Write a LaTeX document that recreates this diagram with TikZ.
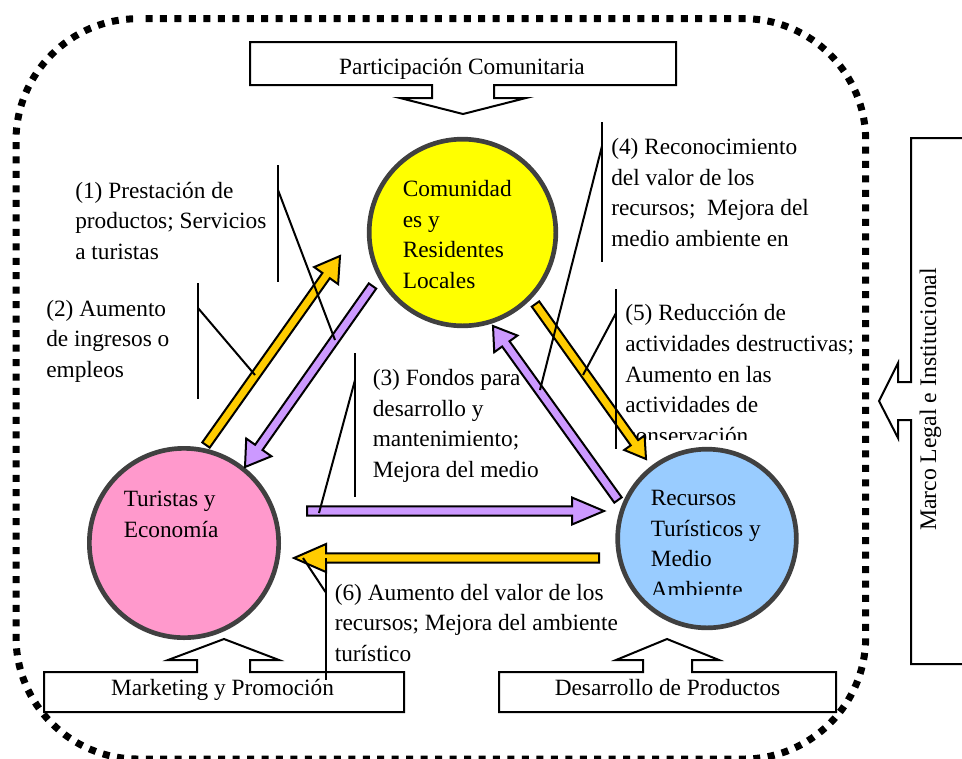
\documentclass[tikz,border=0pt]{standalone}
\usepackage{fontspec}
\setmainfont{Liberation Serif}
\usetikzlibrary{calc}
\definecolor{cyellow}{HTML}{FFFF00}
\definecolor{cpink}{HTML}{FF99CC}
\definecolor{cblue}{HTML}{99CCFF}
\definecolor{corange}{HTML}{FFCC00}
\definecolor{cpurple}{HTML}{CC99FF}
\definecolor{cring}{HTML}{404040}
\tikzset{
  lab/.style={anchor=base west,inner sep=0pt,align=left,font=\fontsize{17.5}{23}\selectfont},
  boxlab/.style={anchor=base,inner sep=0pt,font=\fontsize{17.5}{23}\selectfont},
  calloutbox/.style={draw=black,fill=white,line width=1.5pt,line join=miter},
  leader/.style={draw=black,line width=1.5pt},
  actor/.style={circle,draw=cring,line width=3.5pt,inner sep=0pt},
  blockar/.style={draw=black,line width=1.5pt,line join=miter}
}
% tail, tip, colour, head length (px), head half width (px)
\newcommand{\blockarrow}[5]{%
  \coordinate (hb) at ($(#2)!#4*0.75pt!(#1)$);
  \draw[blockar,fill=#3]
    ($(#1)!3.4pt!90:(#2)$) -- ($(hb)!3.4pt!90:(#2)$) -- ($(hb)!#5*0.75pt!90:(#2)$) -- (#2)
    -- ($(hb)!#5*0.75pt!-90:(#2)$) -- ($(hb)!3.4pt!-90:(#2)$) -- ($(#1)!3.4pt!-90:(#2)$) -- cycle;
}
\begin{document}
\begin{tikzpicture}[x=0.75pt,y=-0.75pt]
\useasboundingbox (0,0) rectangle (962,758);
\clip (0,0) rectangle (962,758);
\fill[white] (0,0) rectangle (962,758);
% dotted frame
\draw[black,line width=5.25pt,dash pattern=on 5.25pt off 5.6pt]
  (145.5,18.7) -- (743.7,18.7) arc[start angle=-90,end angle=0,radius=122]
  -- (865.7,637) arc[start angle=0,end angle=90,radius=122]
  -- (138,759) arc[start angle=90,end angle=180,radius=122]
  -- (16,140.7) arc[start angle=180,end angle=270,radius=122];
% circles
\node[actor,fill=cyellow,minimum size=140pt] (com) at (462.5,232.5) {};
\node[actor,fill=cpink,minimum size=142pt] (tur) at (184,543) {};
\node[actor,fill=cblue,minimum size=134pt] (rec) at (707,538.5) {};
% circle labels
\node[lab] (comt) at (402.5,288.5) {Comunidad\\es y\\Residentes\\Locales};
\node[lab] (turt) at (123.5,537.5) {Turistas y\\Economía};
\begin{scope}
  \clip (640,470) rectangle (790,594);
  \node[lab] (rect) at (650.5,597.5) {Recursos\\Turísticos y\\Medio\\Ambiente};
\end{scope}
% relation labels
\node[lab] (t1) at (75,259.5) {(1) Prestación de\\productos; Servicios\\a turistas};
\node[lab] (t2) at (46,377.5) {(2) Aumento\\de ingresos o\\empleos};
\node[lab] (t3) at (372.5,477.5) {(3) Fondos para\\desarrollo y\\mantenimiento;\\Mejora del medio};
\node[lab] (t4) at (611,246.5) {(4) Reconocimiento\\del valor de los\\recursos;\ \ Mejora del\\medio ambiente en};
\begin{scope}
  \clip (620,295) rectangle (865,439);
  \node[lab] (t5) at (625,443.5) {(5) Reducción de\\actividades destructivas;\\Aumento en las\\actividades de\\conservación};
\end{scope}
\node[lab] (t6) at (334.5,661.5) {(6) Aumento del valor de los\\recursos; Mejora del ambiente\\turístico};
% block arrows
\coordinate (a1s) at (206,445);   \coordinate (a1e) at (340,256);
\coordinate (a2s) at (372.5,286); \coordinate (a2e) at (245,467);
\coordinate (a3s) at (535.5,304); \coordinate (a3e) at (646,459);
\coordinate (a4s) at (618,500);   \coordinate (a4e) at (493,326);
\coordinate (a5s) at (307,511);   \coordinate (a5e) at (604,511);
\coordinate (a6s) at (599,558);   \coordinate (a6e) at (294,558);
\blockarrow{a1s}{a1e}{corange}{24}{14.7}
\blockarrow{a2s}{a2e}{cpurple}{24}{15.4}
\blockarrow{a3s}{a3e}{corange}{20}{12.5}
\blockarrow{a4s}{a4e}{cpurple}{22}{14.3}
\blockarrow{a5s}{a5e}{cpurple}{32}{13.5}
\blockarrow{a6s}{a6e}{corange}{32}{14}
% callout boxes
\draw[calloutbox] (250,42) -- (676,42) -- (676,85) -- (494,85) -- (494,98) -- (526,98) -- (463,114) -- (400,98) -- (432,98) -- (432,85) -- (250,85) -- cycle;
\draw[calloutbox] (44,672) -- (197,672) -- (197,660) -- (168,660) -- (224,639) -- (279,660) -- (250,660) -- (250,672) -- (404,672) -- (404,712) -- (44,712) -- cycle;
\draw[calloutbox] (499,672) -- (643,672) -- (643,660) -- (616,660) -- (667,639) -- (719,660) -- (692,660) -- (692,672) -- (836,672) -- (836,712) -- (499,712) -- cycle;
\draw[calloutbox] (962,138) -- (911,138) -- (911,382) -- (898,382) -- (898,363) -- (879,401) -- (898,438) -- (898,420) -- (911,420) -- (911,664) -- (962,664);
\node[boxlab] (part) at (462,74) {Participación Comunitaria};
\node[boxlab] (mark) at (222.5,695) {Marketing y Promoción};
\node[boxlab] (desa) at (667.5,695) {Desarrollo de Productos};
\node[boxlab,rotate=90,font=\fontsize{17.8}{23}\selectfont] (marco) at (936,399.5) {Marco Legal e Institucional};
% leader lines
\coordinate (l1a) at (278,165); \coordinate (l1b) at (278,282); \coordinate (l1c) at (278,190); \coordinate (l1d) at (335,340);
\coordinate (l2a) at (198,283); \coordinate (l2b) at (198,399); \coordinate (l2c) at (198,308); \coordinate (l2d) at (255,375);
\coordinate (l3a) at (355,353); \coordinate (l3b) at (355,497); \coordinate (l3c) at (355,380); \coordinate (l3d) at (319,513);
\coordinate (l4a) at (602,122); \coordinate (l4b) at (602,262); \coordinate (l4c) at (602,146); \coordinate (l4d) at (540,390);
\coordinate (l5a) at (616,289); \coordinate (l5b) at (616,449); \coordinate (l5c) at (616,313); \coordinate (l5d) at (583,375);
\coordinate (l6a) at (325.5,558); \coordinate (l6b) at (325.5,680); \coordinate (l6c) at (325.5,592); \coordinate (l6d) at (303,558);
\foreach \n in {1,...,6}{
  \draw[leader] (l\n a) -- (l\n b);
  \draw[leader] (l\n c) -- (l\n d);
}
\end{tikzpicture}
\end{document}
